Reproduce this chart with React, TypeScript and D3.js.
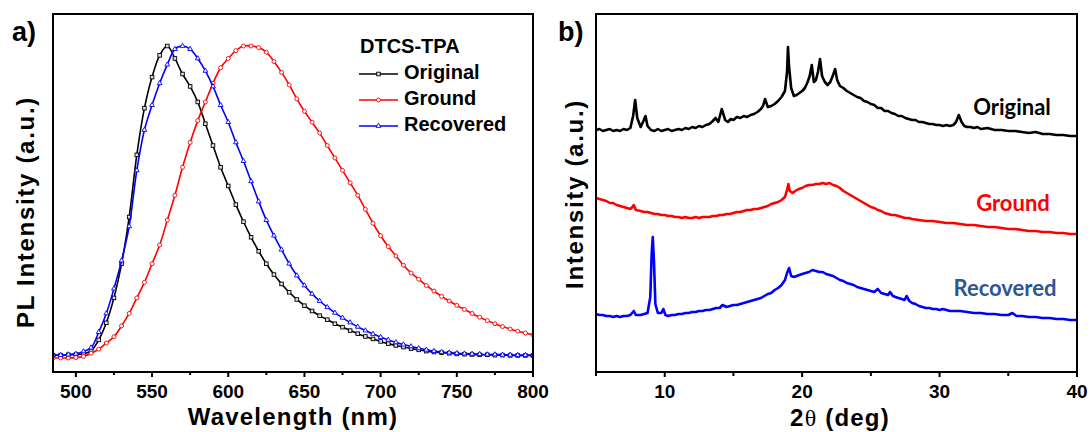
import React from "react";
import * as d3 from "d3";

// ---------- Panel a) PL spectra ----------
const wavelength = [
  485, 490, 495, 500, 505, 510, 515, 520, 525, 530, 535, 540, 545, 550, 555, 560,
  565, 570, 575, 580, 585, 590, 595, 600, 605, 610, 615, 620, 625, 630, 635, 640,
  645, 650, 655, 660, 665, 670, 675, 680, 685, 690, 695, 700, 705, 710, 715, 720,
  725, 730, 735, 740, 745, 750, 755, 760, 765, 770, 775, 780, 785, 790, 795, 800,
];
const plOriginal = [
  0.006, 0.006, 0.007, 0.008, 0.01, 0.02, 0.055, 0.11, 0.19, 0.3, 0.45, 0.65, 0.8, 0.9, 0.97, 1.0,
  0.96, 0.91, 0.87, 0.82, 0.75, 0.68, 0.61, 0.55, 0.49, 0.435, 0.385, 0.34, 0.3, 0.265, 0.235, 0.208,
  0.185, 0.165, 0.148, 0.133, 0.12, 0.107, 0.096, 0.085, 0.075, 0.066, 0.058, 0.05, 0.043, 0.037, 0.032, 0.027,
  0.023, 0.019, 0.016, 0.014, 0.012, 0.01, 0.009, 0.008, 0.007, 0.007, 0.006, 0.006, 0.005, 0.005, 0.005, 0.005,
];
const plGround = [
  -0.003, -0.003, -0.003, -0.002, 0.002, 0.012, 0.025, 0.045, 0.065, 0.1, 0.14, 0.19, 0.24, 0.3, 0.36, 0.44,
  0.52, 0.61, 0.69, 0.76, 0.82, 0.88, 0.93, 0.96, 0.985, 1.0, 1.0, 0.995, 0.98, 0.95, 0.915, 0.875,
  0.83, 0.79, 0.755, 0.72, 0.68, 0.64, 0.6, 0.56, 0.52, 0.475, 0.43, 0.39, 0.355, 0.325, 0.295, 0.27,
  0.25, 0.23, 0.212, 0.195, 0.18, 0.166, 0.153, 0.14, 0.128, 0.117, 0.107, 0.098, 0.09, 0.083, 0.077, 0.071,
];
const plRecovered = [
  0.006, 0.006, 0.008, 0.01, 0.018, 0.03, 0.08, 0.14, 0.22, 0.31, 0.42, 0.6, 0.73, 0.81, 0.88, 0.94,
  0.99, 1.0, 0.99, 0.96, 0.92, 0.87, 0.81, 0.755, 0.69, 0.63, 0.565, 0.5, 0.44, 0.39, 0.345, 0.3,
  0.262, 0.23, 0.203, 0.18, 0.16, 0.142, 0.126, 0.111, 0.097, 0.085, 0.074, 0.064, 0.055, 0.047, 0.04, 0.034,
  0.028, 0.023, 0.019, 0.016, 0.014, 0.012, 0.011, 0.01, 0.009, 0.008, 0.008, 0.007, 0.007, 0.006, 0.006, 0.006,
];
const plTicks = [500, 550, 600, 650, 700, 750, 800];
const plMinorTicks = [525, 575, 625, 675, 725, 775];
const plLegendTitle = "DTCS-TPA";
const plSeriesNames = ["Original", "Ground", "Recovered"];

// ---------- Panel b) XRD patterns (stacked, offset intensities) ----------
const xrdOriginal: [number, number][] = [
  [5.0, 242], [5.25, 243], [5.5, 241], [5.75, 242], [6.0, 243], [6.25, 241], [6.5, 242], [6.75, 241],
  [7.0, 243], [7.25, 242], [7.5, 244], [7.7, 256], [7.85, 272], [8.0, 254], [8.25, 245], [8.45, 251],
  [8.6, 256], [8.75, 246], [9.0, 242], [9.25, 241], [9.5, 243], [9.75, 241], [10.0, 242], [10.25, 243],
  [10.5, 241], [10.75, 242], [11.0, 243], [11.25, 242], [11.5, 244], [11.75, 243], [12.0, 245], [12.25, 244],
  [12.5, 246], [12.75, 245], [13.0, 247], [13.25, 248], [13.5, 251], [13.7, 254], [13.9, 250], [14.15, 263],
  [14.4, 252], [14.6, 250], [14.8, 253], [15.0, 252], [15.25, 255], [15.5, 254], [15.75, 256], [16.0, 255],
  [16.25, 257], [16.5, 258], [16.75, 260], [17.0, 263], [17.15, 266], [17.3, 273], [17.5, 265], [17.75, 266],
  [18.0, 268], [18.25, 271], [18.5, 275], [18.75, 281], [18.9, 300], [18.97, 325], [19.05, 305], [19.2, 284],
  [19.4, 276], [19.6, 277], [19.8, 279], [20.0, 281], [20.2, 284], [20.4, 290], [20.55, 296], [20.7, 307],
  [20.85, 290], [21.0, 292], [21.15, 300], [21.3, 313], [21.45, 296], [21.65, 290], [21.85, 287], [22.05, 290],
  [22.25, 297], [22.4, 303], [22.55, 292], [22.75, 286], [23.0, 284], [23.25, 281], [23.5, 279], [23.75, 277],
  [24.0, 275], [24.25, 274], [24.5, 271], [24.75, 270], [25.0, 268], [25.25, 267], [25.5, 264], [25.75, 264],
  [26.0, 261], [26.25, 261], [26.5, 259], [26.75, 258], [27.0, 256], [27.25, 256], [27.5, 254], [27.75, 253],
  [28.0, 252], [28.25, 252], [28.5, 250], [28.75, 250], [29.0, 249], [29.25, 248], [29.5, 248], [29.75, 247],
  [30.0, 247], [30.25, 246], [30.5, 247], [30.75, 246], [31.0, 247], [31.2, 250], [31.4, 257], [31.6, 250],
  [31.8, 246], [32.0, 245], [32.25, 245], [32.5, 244], [32.75, 245], [33.0, 243], [33.5, 244], [34.0, 242],
  [34.5, 242], [35.0, 241], [35.5, 241], [36.0, 240], [36.5, 239], [37.0, 240], [37.5, 238], [38.0, 238],
  [38.5, 237], [39.0, 237], [39.5, 236], [40.0, 236],
];
const xrdGround: [number, number][] = [
  [5.0, 174], [5.25, 173], [5.5, 172], [5.75, 171], [6.0, 169], [6.25, 169], [6.5, 167], [6.75, 166],
  [7.0, 165], [7.25, 164], [7.5, 163], [7.65, 165], [7.75, 167], [7.9, 162], [8.25, 161], [8.5, 160],
  [8.75, 160], [9.0, 159], [9.25, 158], [9.5, 158], [9.75, 157], [10.0, 157], [10.25, 156], [10.5, 156],
  [10.75, 155], [11.0, 155], [11.25, 154], [11.5, 155], [11.75, 154], [12.0, 154], [12.25, 155], [12.5, 154],
  [12.75, 155], [13.0, 155], [13.25, 155], [13.5, 156], [13.75, 156], [14.0, 157], [14.25, 157], [14.5, 158],
  [14.75, 158], [15.0, 159], [15.25, 160], [15.5, 160], [15.75, 161], [16.0, 162], [16.25, 162], [16.5, 163],
  [16.75, 163], [17.0, 164], [17.25, 165], [17.5, 166], [17.75, 168], [18.0, 169], [18.25, 170], [18.5, 172],
  [18.75, 175], [18.9, 182], [19.0, 188], [19.1, 181], [19.3, 179], [19.5, 181], [19.75, 183], [20.0, 184],
  [20.25, 186], [20.5, 187], [20.75, 187], [21.0, 188], [21.25, 188], [21.5, 189], [21.75, 188], [22.0, 189],
  [22.25, 187], [22.5, 186], [22.75, 184], [23.0, 181], [23.25, 179], [23.5, 177], [23.75, 175], [24.0, 173],
  [24.25, 171], [24.5, 169], [24.75, 167], [25.0, 165], [25.25, 164], [25.5, 162], [25.75, 161], [26.0, 159],
  [26.25, 158], [26.5, 157], [26.75, 157], [27.0, 156], [27.25, 155], [27.5, 154], [27.75, 154], [28.0, 153],
  [28.5, 152], [29.0, 151], [29.5, 151], [30.0, 150], [30.5, 149], [31.0, 149], [31.5, 148], [32.0, 147],
  [32.5, 147], [33.0, 146], [33.5, 145], [34.0, 145], [34.5, 144], [35.0, 143], [35.5, 143], [36.0, 142],
  [36.5, 141], [37.0, 141], [37.5, 140], [38.0, 140], [38.5, 139], [39.0, 139], [39.5, 138], [40.0, 138],
];
const xrdRecovered: [number, number][] = [
  [5.0, 58], [5.25, 57], [5.5, 57], [5.75, 56], [6.0, 56], [6.25, 55], [6.5, 56], [6.75, 55],
  [7.0, 56], [7.25, 56], [7.5, 57], [7.75, 61], [7.9, 57], [8.25, 57], [8.5, 58], [8.75, 59],
  [8.95, 75], [9.05, 118], [9.13, 135], [9.22, 110], [9.32, 68], [9.5, 59], [9.75, 59], [9.9, 63],
  [10.05, 57], [10.25, 56], [10.5, 57], [10.75, 57], [11.0, 58], [11.25, 58], [11.5, 59], [11.75, 59],
  [12.0, 60], [12.25, 60], [12.5, 61], [12.75, 61], [13.0, 62], [13.25, 62], [13.5, 63], [13.75, 64],
  [14.0, 64], [14.2, 67], [14.5, 65], [14.75, 66], [15.0, 67], [15.25, 67], [15.5, 68], [15.75, 69],
  [16.0, 70], [16.25, 71], [16.5, 72], [16.75, 73], [17.0, 74], [17.25, 76], [17.5, 78], [17.75, 79],
  [18.0, 82], [18.25, 84], [18.5, 87], [18.75, 92], [18.9, 99], [19.05, 104], [19.2, 96], [19.4, 95],
  [19.6, 96], [19.8, 97], [20.0, 98], [20.25, 99], [20.5, 100], [20.75, 102], [21.0, 101], [21.25, 100],
  [21.5, 100], [21.75, 98], [22.0, 97], [22.25, 96], [22.5, 94], [22.75, 92], [23.0, 91], [23.25, 89],
  [23.5, 88], [23.75, 87], [24.0, 85], [24.25, 84], [24.5, 83], [24.75, 82], [25.0, 81], [25.25, 80],
  [25.5, 83], [25.75, 79], [26.0, 78], [26.25, 77], [26.4, 80], [26.6, 76], [27.0, 74], [27.25, 73],
  [27.45, 72], [27.6, 76], [27.8, 71], [28.0, 69], [28.25, 68], [28.5, 66], [28.75, 65], [29.0, 64],
  [29.25, 64], [29.5, 63], [29.75, 63], [30.0, 62], [30.25, 63], [30.5, 62], [30.75, 61], [31.0, 61],
  [31.5, 61], [32.0, 60], [32.5, 59], [33.0, 59], [33.5, 58], [34.0, 58], [34.5, 57], [35.0, 57],
  [35.3, 59], [35.6, 56], [36.0, 56], [36.5, 55], [37.0, 55], [37.5, 54], [38.0, 54], [38.5, 53],
  [39.0, 53], [39.5, 52], [40.0, 52],
];
const xrdTicks = [10, 20, 30, 40];
const xrdMinorTicks = [5, 15, 25, 35];

const FONT = "'Liberation Sans', Arial, sans-serif";

export default function App() {
  const L = { x0: 53, x1: 533, y0: 14, y1: 372 };
  const R = { x0: 596, x1: 1077, y0: 14, y1: 372 };

  const xL = d3.scaleLinear().domain([485, 800]).range([L.x0, L.x1]);
  const yL = d3.scaleLinear().domain([0, 1]).range([357, 46]);
  const xR = d3.scaleLinear().domain([5, 40]).range([R.x0, R.x1]);
  const yR = d3.scaleLinear().domain([0, 358]).range([R.y1, R.y0]);

  const plLine = d3
    .line<number>()
    .x((_, i) => xL(wavelength[i]))
    .y((d) => yL(d))
    .curve(d3.curveCatmullRom);
  const xrdLine = d3
    .line<[number, number]>()
    .x((d) => xR(d[0]))
    .y((d) => yR(d[1]));

  const series = [
    { name: plSeriesNames[0], values: plOriginal, color: "#000000", marker: "square" },
    { name: plSeriesNames[1], values: plGround, color: "#ff0000", marker: "circle" },
    { name: plSeriesNames[2], values: plRecovered, color: "#0000ff", marker: "triangle" },
  ];

  const tri = d3.symbol(d3.symbolTriangle, 10)() as string;

  const marker = (type: string, cx: number, cy: number, color: string, key: any) => {
    if (type === "square")
      return <rect key={key} x={cx - 1.8} y={cy - 1.8} width={3.6} height={3.6} fill="#ddd" stroke={color} strokeWidth={0.9} />;
    if (type === "circle")
      return <circle key={key} cx={cx} cy={cy} r={2} fill="#fff" stroke={color} strokeWidth={0.9} />;
    return <path key={key} d={tri} transform={`translate(${cx},${cy})`} fill="#fff" stroke={color} strokeWidth={0.9} />;
  };

  const legendRowsY = [74, 100, 126];

  return (
    <svg width={1091} height={432} style={{ position: "absolute", left: 0, top: 0, background: "#fff" }} fontFamily={FONT}>
      <rect x={0} y={0} width={1091} height={432} fill="#fff" />

      <defs>
        <clipPath id="clipL">
          <rect x={L.x0} y={L.y0} width={L.x1 - L.x0} height={L.y1 - L.y0} />
        </clipPath>
        <clipPath id="clipR">
          <rect x={R.x0} y={R.y0} width={R.x1 - R.x0} height={R.y1 - R.y0} />
        </clipPath>
      </defs>

      {/* ===== Panel a ===== */}
      <g clipPath="url(#clipL)">
        {series.map((s) => (
          <g key={s.name}>
            <path d={plLine(s.values) as string} fill="none" stroke={s.color} strokeWidth={1.6} />
            {s.values.map((v, i) => marker(s.marker, xL(wavelength[i]), yL(v), s.color, i))}
          </g>
        ))}
      </g>

      <rect x={L.x0} y={L.y0} width={L.x1 - L.x0} height={L.y1 - L.y0} fill="none" stroke="#000" strokeWidth={2} />
      {plTicks.map((t) => (
        <g key={t}>
          <line x1={xL(t)} x2={xL(t)} y1={L.y1} y2={L.y1 + 5} stroke="#000" strokeWidth={2} />
          <text x={xL(t)} y={398} textAnchor="middle" fontSize={19} fontWeight="bold">{t}</text>
        </g>
      ))}
      {plMinorTicks.map((t) => (
        <line key={t} x1={xL(t)} x2={xL(t)} y1={L.y1} y2={L.y1 + 3} stroke="#000" strokeWidth={2} />
      ))}
      <text x={(L.x0 + L.x1) / 2} y={425} textAnchor="middle" fontSize={24} fontWeight="bold" letterSpacing={1.2}>
        Wavelength (nm)
      </text>
      <text transform={`translate(34,212) rotate(-90)`} textAnchor="middle" fontSize={24} fontWeight="bold" letterSpacing={1.7}>
        PL Intensity (a.u.)
      </text>
      <text x={12} y={41} fontSize={27} fontWeight="bold">a)</text>

      {/* legend */}
      <text x={360} y={52.5} fontSize={20} fontWeight="bold">{plLegendTitle}</text>
      {series.map((s, i) => (
        <g key={s.name}>
          <line x1={359} x2={398} y1={legendRowsY[i]} y2={legendRowsY[i]} stroke={s.color} strokeWidth={1.6} />
          {marker(s.marker, 378.5, legendRowsY[i], s.color, "m")}
          <text x={404} y={legendRowsY[i] + 4.5} fontSize={20} fontWeight="bold">{s.name}</text>
        </g>
      ))}

      {/* ===== Panel b ===== */}
      <g clipPath="url(#clipR)">
        <path d={xrdLine(xrdOriginal) as string} fill="none" stroke="#000" strokeWidth={2.6} strokeLinejoin="round" />
        <path d={xrdLine(xrdGround) as string} fill="none" stroke="#ff0000" strokeWidth={2.6} strokeLinejoin="round" />
        <path d={xrdLine(xrdRecovered) as string} fill="none" stroke="#0000ff" strokeWidth={2.6} strokeLinejoin="round" />
      </g>
      <rect x={R.x0} y={R.y0} width={R.x1 - R.x0} height={R.y1 - R.y0} fill="none" stroke="#000" strokeWidth={2} />
      {xrdTicks.map((t) => (
        <g key={t}>
          <line x1={xR(t)} x2={xR(t)} y1={R.y1} y2={R.y1 + 5} stroke="#000" strokeWidth={2} />
          <text x={xR(t)} y={398} textAnchor="middle" fontSize={19} fontWeight="bold">{t}</text>
        </g>
      ))}
      {xrdMinorTicks.map((t) => (
        <line key={t} x1={xR(t)} x2={xR(t)} y1={R.y1} y2={R.y1 + 4} stroke="#000" strokeWidth={2} />
      ))}
      <text x={840} y={426} textAnchor="middle" fontSize={24} fontWeight="bold" letterSpacing={1.2}>
        2<tspan fontFamily="'Liberation Serif', 'Times New Roman', serif" fontWeight="normal">θ</tspan> (deg)
      </text>
      <text transform={`translate(583,194) rotate(-90)`} textAnchor="middle" fontSize={24} fontWeight="bold" letterSpacing={1.7}>
        Intensity (a.u.)
      </text>
      <text x={558} y={41} fontSize={27} fontWeight="bold">b)</text>

      <text x={1012} y={115} textAnchor="middle" fontFamily="Lato, 'Open Sans', sans-serif" fontSize={22} fontWeight="bold" fill="#000">
        Original
      </text>
      <text x={1013} y={211} textAnchor="middle" fontFamily="Lato, 'Open Sans', sans-serif" fontSize={22} fontWeight="bold" fill="#ff0000">
        Ground
      </text>
      <text x={1005} y={296} textAnchor="middle" fontFamily="Lato, 'Open Sans', sans-serif" fontSize={22} fontWeight="bold" fill="#2f5597">
        Recovered
      </text>
    </svg>
  );
}
